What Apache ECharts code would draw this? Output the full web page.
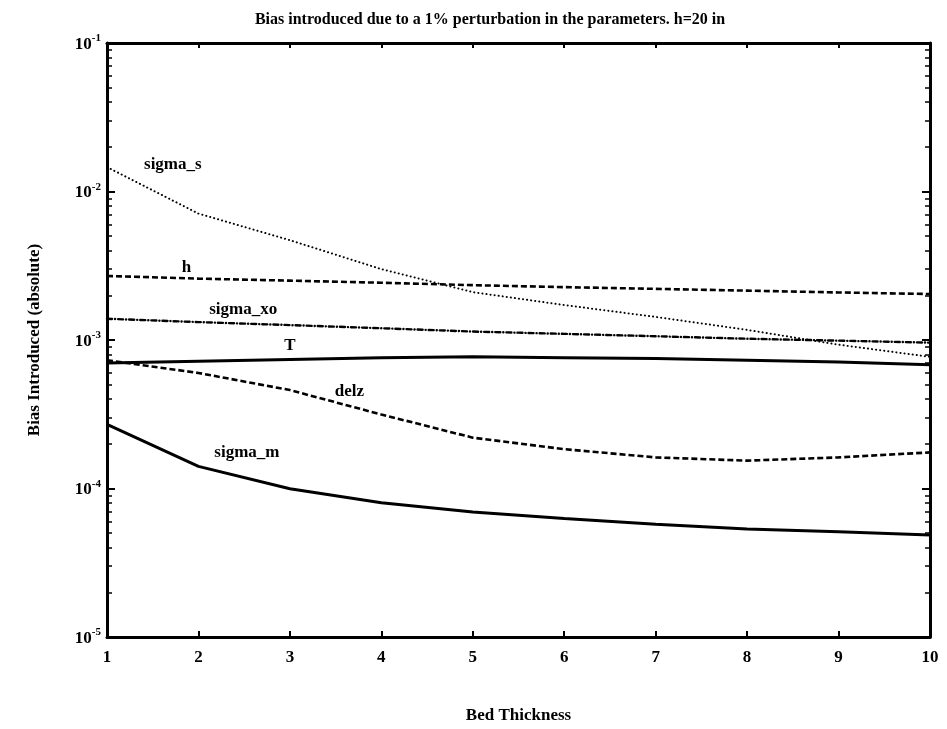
<!DOCTYPE html>
<html>
<head>
<meta charset="utf-8">
<title>Bias introduced due to a 1% perturbation in the parameters</title>
<script src="https://cdn.jsdelivr.net/npm/echarts@6/dist/echarts.min.js"></script>
<style>
  html, body { margin: 0; padding: 0; background: #fff; }
  #chart { width: 947px; height: 729px; }
</style>
</head>
<body>
<div id="chart"></div>
<script>
// Bed thickness (x) and the bias each parameter perturbation introduces
const bedThickness = [1, 2, 3, 4, 5, 6, 7, 8, 9, 10];

const sigmaS  = [0.0146, 0.0071, 0.0047, 0.0030, 0.0021, 0.00172, 0.00143, 0.00117, 0.00093, 0.00077];
const hVals   = [0.00270, 0.00259, 0.00251, 0.00243, 0.00234, 0.00227, 0.00221, 0.00215, 0.00209, 0.00204];
const sigmaXo = [0.00139, 0.00132, 0.00126, 0.00120, 0.00114, 0.00110, 0.00106, 0.00102, 0.00099, 0.00096];
const tVals   = [0.00070, 0.00072, 0.00074, 0.00076, 0.00077, 0.00076, 0.00075, 0.00073, 0.00071, 0.00068];
const delz    = [0.00073, 0.00060, 0.00046, 0.000315, 0.00022, 0.000184, 0.000162, 0.000154, 0.000162, 0.000175];
const sigmaM  = [0.00027, 0.000141, 0.0000995, 0.0000803, 0.0000695, 0.0000628, 0.0000575, 0.0000533, 0.0000512, 0.0000486];

// Curve annotations: [bed thickness, bias, text]
const curveLabels = [
  [1.72, 0.0151, 'sigma_s'],
  [1.87, 0.00307, 'h'],
  [2.49, 0.00159, 'sigma_xo'],
  [3.00, 0.00092, 'T'],
  [3.65, 0.00045, 'delz'],
  [2.53, 0.000175, 'sigma_m']
];

// Decade ticks and the 2..9 minor ticks of the log axis
const yMin = 1e-5, yMax = 1e-1;
const minorTicks = [];
for (let e = -5; e < -1; e++) {
  for (let m = 2; m <= 9; m++) minorTicks.push(+(m * Math.pow(10, e)).toPrecision(3));
}

const FONT = '"Liberation Serif", "DejaVu Serif", serif';
const INK = '#000';

function pairs(ys) { return bedThickness.map((x, i) => [x, ys[i]]); }

function lineSeries(name, ys, width, dash, cap) {
  return {
    name: name,
    type: 'line',
    xAxisIndex: 0,
    yAxisIndex: 0,
    data: pairs(ys),
    symbol: 'none',
    smooth: false,
    lineStyle: { color: INK, width: width, type: dash, cap: cap || 'butt', opacity: 1 },
    z: 3
  };
}

const majorTick = { show: true, inside: true, length: 8, lineStyle: { color: INK, width: 2 } };
const minorTick = { show: true, inside: true, length: 5, lineStyle: { color: INK, width: 1.5 }, customValues: minorTicks };

function expLabel(v) {
  const e = Math.round(Math.log10(v));
  return '{b|10}{s|' + e + '}';
}

const yRich = {
  b: { fontFamily: FONT, fontWeight: 'bold', fontSize: 17, color: INK, lineHeight: 20, verticalAlign: 'bottom' },
  s: { fontFamily: FONT, fontWeight: 'bold', fontSize: 11, color: INK, lineHeight: 12, verticalAlign: 'top' }
};

const chart = echarts.init(document.getElementById('chart'), null, { renderer: 'canvas' });

chart.setOption({
  animation: false,
  backgroundColor: '#fff',
  title: {
    text: 'Bias introduced due to a 1% perturbation in the parameters. h=20 in',
    left: 485,
    textAlign: 'center',
    top: 7,
    textStyle: { fontFamily: FONT, fontWeight: 'bold', fontSize: 16, color: INK }
  },
  grid: { left: 107, right: 17, top: 43, bottom: 86, containLabel: false },
  xAxis: [
    {
      type: 'value', position: 'bottom', min: 1, max: 10, interval: 1,
      name: 'Bed Thickness', nameLocation: 'middle', nameGap: 70,
      nameTextStyle: { fontFamily: FONT, fontWeight: 'bold', fontSize: 17, color: INK },
      axisLine: { show: true, onZero: false, lineStyle: { color: INK, width: 3 } },
      axisTick: { show: true, inside: true, length: 6, lineStyle: { color: INK, width: 2 } },
      axisLabel: { fontFamily: FONT, fontWeight: 'bold', fontSize: 17, color: INK, margin: 12 },
      splitLine: { show: false }
    },
    {
      type: 'value', position: 'top', min: 1, max: 10, interval: 1,
      axisLine: { show: true, onZero: false, lineStyle: { color: INK, width: 3 } },
      axisTick: { show: true, inside: true, length: 5, lineStyle: { color: INK, width: 2 } },
      axisLabel: { show: false },
      splitLine: { show: false }
    }
  ],
  yAxis: [
    {
      type: 'log', logBase: 10, position: 'left', min: yMin, max: yMax,
      name: 'Bias Introduced (absolute)', nameLocation: 'middle', nameGap: 64, nameRotate: 90,
      nameTextStyle: { fontFamily: FONT, fontWeight: 'bold', fontSize: 17, color: INK },
      axisLine: { show: true, onZero: false, lineStyle: { color: INK, width: 3 } },
      axisTick: majorTick,
      axisLabel: { formatter: expLabel, rich: yRich, margin: 6 },
      splitLine: { show: false }
    },
    {
      type: 'log', logBase: 10, position: 'left', min: yMin, max: yMax,
      axisLine: { show: false },
      axisTick: minorTick,
      axisLabel: { show: false },
      splitLine: { show: false }
    },
    {
      type: 'log', logBase: 10, position: 'right', min: yMin, max: yMax,
      axisLine: { show: true, onZero: false, lineStyle: { color: INK, width: 3 } },
      axisTick: majorTick,
      axisLabel: { show: false },
      splitLine: { show: false }
    },
    {
      type: 'log', logBase: 10, position: 'right', min: yMin, max: yMax,
      axisLine: { show: false },
      axisTick: minorTick,
      axisLabel: { show: false },
      splitLine: { show: false }
    }
  ],
  series: [
    lineSeries('sigma_s', sigmaS, 2, [0.1, 4], 'round'),
    lineSeries('h', hVals, 2.6, [6, 3], 'butt'),
    lineSeries('sigma_xo', sigmaXo, 2.4, [5, 3, 0.1, 3], 'round'),
    lineSeries('T', tVals, 3, 'solid'),
    lineSeries('delz', delz, 2.6, [6, 3], 'butt'),
    lineSeries('sigma_m', sigmaM, 3, 'solid'),
    {
      name: 'labels',
      type: 'scatter',
      xAxisIndex: 0,
      yAxisIndex: 0,
      symbolSize: 0,
      silent: true,
      itemStyle: { opacity: 1, color: INK },
      data: curveLabels.map(d => ({ value: [d[0], d[1]], name: d[2] })),
      label: {
        show: true, position: 'inside', formatter: '{b}', opacity: 1,
        fontFamily: FONT, fontWeight: 'bold', fontSize: 17, color: INK,
        textBorderWidth: 0
      },
      z: 4
    }
  ]
});
</script>
</body>
</html>
